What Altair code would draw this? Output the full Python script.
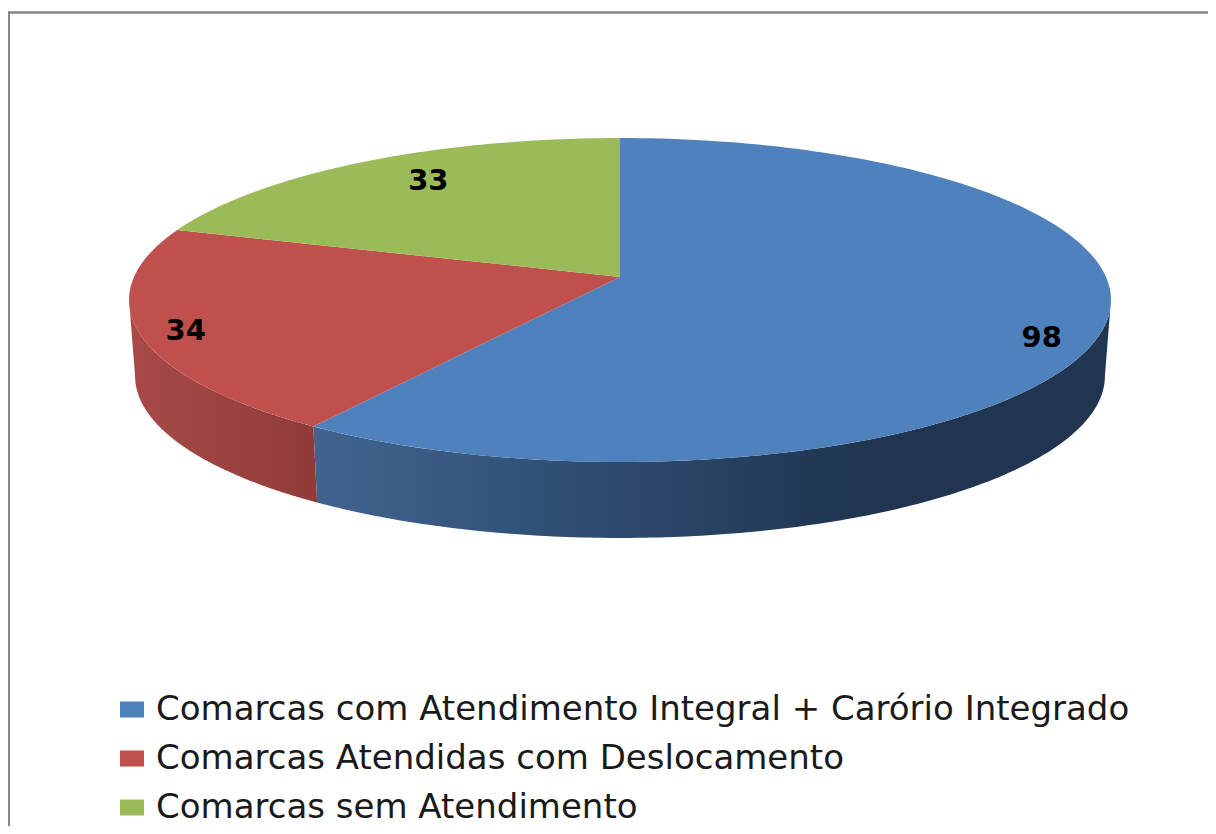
import numpy as np
import pandas as pd
import altair as alt

categories = ["Comarcas com Atendimento Integral + Carório Integrado",
              "Comarcas Atendidas com Deslocamento",
              "Comarcas sem Atendimento"]
values = [98, 34, 33]
colors = ["#4f81bd", "#c0504d", "#9bbb59"]
label_radius = [0.90, 0.912, 0.79]
label_turn = [7.0, -1.7, 2.9]

W, H = 1200, 818
CX, CY, RX, RY, K = 620.0, 277.0, 486.0, 158.7, -0.142
DEPTH = 76.0 / RY
LOWER = 480.0 / 486.0
SILHOUETTE = 98.2


def project(theta_deg, r=1.0, scale=1.0, drop=0.0):
    t = np.radians(theta_deg)
    u, v = r * np.sin(t), -r * np.cos(t)
    d = 1 + K * v
    return scale * u / d, v / d + drop


# scales map the projected unit disc on to the page
x_scale = alt.Scale(domain=[(8 - CX) / RX, (8 + W - CX) / RX], nice=False, zero=False)
y_scale = alt.Scale(domain=[(8 + H - CY) / RY, (8 - CY) / RY], nice=False, zero=False)
X = alt.X("x:Q", scale=x_scale, axis=None)
Y = alt.Y("y:Q", scale=y_scale, axis=None)

total = sum(values)
ends = np.cumsum(values) / total * 360
starts = np.r_[0, ends[:-1]]


def polygon(points):
    return pd.DataFrame({"x": [p[0] for p in points], "y": [p[1] for p in points],
                         "i": range(len(points))})


def wedge(a, b):
    pts = [project(a, r=0.0)]
    pts += [project(t) for t in np.linspace(a, b, 160)]
    pts.append(project(a, r=0.0))
    return polygon(pts)


def wall(a, b):
    ts = np.linspace(a, b, 160)
    pts = [project(t) for t in ts]
    pts += [project(t, scale=LOWER, drop=DEPTH) for t in ts[::-1]]
    pts.append(pts[0])
    return polygon(pts)


def shape(df, fill):
    return alt.Chart(df).mark_line(fill=fill, stroke=None, clip=False, strokeWidth=0).encode(
        x=X, y=Y, order=alt.Order("i:Q"))


def grad(stops):
    return alt.Gradient(gradient="linear", x1=0, y1=0, x2=1, y2=0,
                        stops=[alt.GradientStop(offset=o, color=c) for o, c in stops])


blue_wall = shape(wall(SILHOUETTE, ends[0]), grad([(0, "#41648f"), (0.35, "#2e4c71"),
                                                   (0.68, "#1f3550"), (1, "#1f3550")]))
red_wall = shape(wall(ends[0], 360 - SILHOUETTE), grad([(0, "#a84a47"), (1, "#903b38")]))

tops = [shape(wedge(a, b), c) for a, b, c in zip(starts, ends, colors)]

# data labels
mids = (starts + ends) / 2
lab = [project(m + t, r=r) for m, t, r in zip(mids, label_turn, label_radius)]
labels = pd.DataFrame({"x": [p[0] for p in lab], "y": [p[1] for p in lab],
                       "value": values})
text = alt.Chart(labels).mark_text(font="DejaVu Sans", fontSize=29, fontWeight="bold",
                                   color="#000000", align="center", baseline="middle").encode(
    x=X, y=Y, text="value:Q")

# legend
legend_df = pd.DataFrame({"categoria": categories})
legend = alt.Chart(legend_df).mark_point(filled=True, opacity=0, size=1).encode(
    x=alt.value(20), y=alt.value(20),
    color=alt.Color("categoria:N",
                    scale=alt.Scale(domain=categories, range=colors),
                    legend=alt.Legend(
                        orient="none", legendX=107, legendY=684, title=None,
                        symbolType="M-1,-0.67H1V0.67H-1Z", symbolSize=576,
                        symbolOpacity=1, symbolStrokeWidth=0,
                        labelFont="DejaVu Sans", labelFontSize=34,
                        labelColor="#1a1a1a", labelLimit=1100,
                        labelOffset=7, rowPadding=14, columnPadding=0,
                        clipHeight=35)))

border_color = "#868686"
top_rule = alt.Chart(legend_df.head(1)).mark_rule(color=border_color, strokeWidth=2.5).encode(
    x=alt.value(0), x2=alt.value(W), y=alt.value(4.5))
left_rule = alt.Chart(legend_df.head(1)).mark_rule(color=border_color, strokeWidth=3).encode(
    x=alt.value(0.5), y=alt.value(3.5), y2=alt.value(H))

chart = alt.layer(top_rule, left_rule, blue_wall, red_wall, *tops, text, legend).properties(
    width=W, height=H, padding=0, background="#ffffff",
    autosize=alt.AutoSizeParams(type="none"),
).configure_view(stroke=None)

chart.save("out.html", embed_options={"renderer": "svg", "actions": False})
